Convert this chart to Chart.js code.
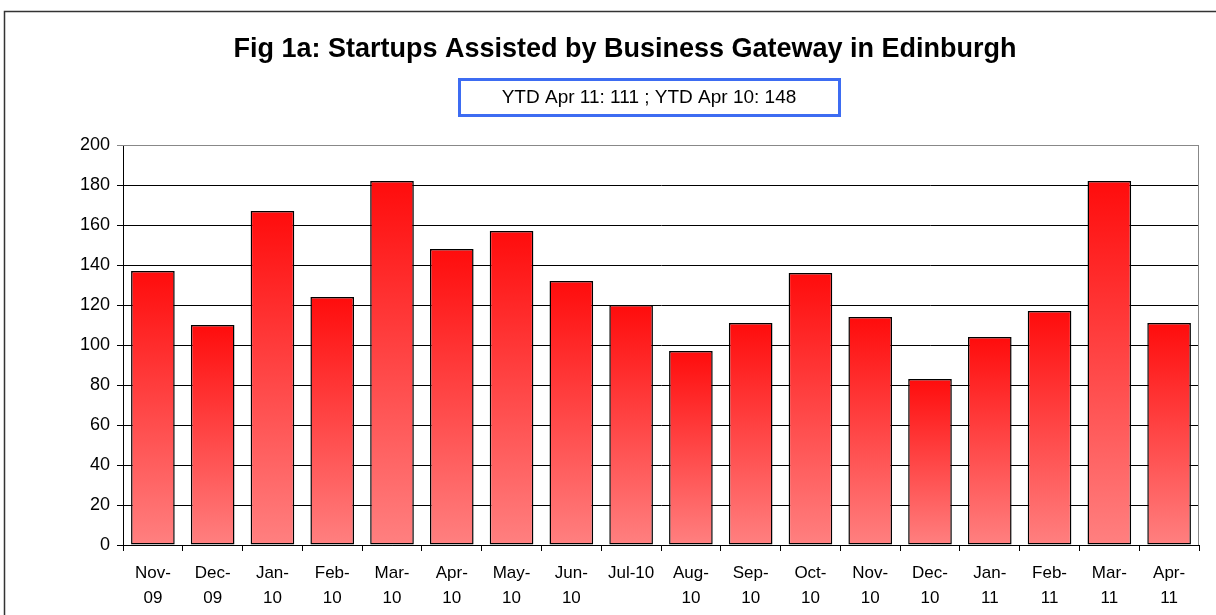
<!DOCTYPE html>
<html>
<head>
<meta charset="utf-8">
<script src="https://cdn.jsdelivr.net/npm/chart.js@4"></script>
<style>
  body { margin: 0; background: #fff; }
  #wrap { width: 1216px; height: 615px; }
</style>
</head>
<body>
<div id="wrap"><canvas id="startupChart" width="1216" height="615"></canvas></div>
<script>
/* =========================
   DATA
========================= */

const months = [
  ["Nov-", "09"], ["Dec-", "09"], ["Jan-", "10"], ["Feb-", "10"], ["Mar-", "10"],
  ["Apr-", "10"], ["May-", "10"], ["Jun-", "10"], "Jul-10", ["Aug-", "10"],
  ["Sep-", "10"], ["Oct-", "10"], ["Nov-", "10"], ["Dec-", "10"], ["Jan-", "11"],
  ["Feb-", "11"], ["Mar-", "11"], ["Apr-", "11"]
];

const startups = [137, 110, 167, 124, 182, 148, 157, 132, 120, 97, 111, 136, 114, 83, 104, 117, 182, 111];

const chartTitle = "Fig 1a: Startups Assisted by Business Gateway in Edinburgh";
const ytdNote = "YTD Apr 11: 111 ; YTD Apr 10: 148";

const FONT = "'Liberation Sans', Arial, sans-serif";

/* =========================
   HEADER + FRAME PLUGIN
========================= */

const header = {
  id: "header",
  beforeDraw(chart) {
    const c = chart.ctx;
    c.save();
    // outer frame
    c.strokeStyle = "#333";
    c.lineWidth = 1.5;
    c.beginPath();
    c.moveTo(4.5, 615);
    c.lineTo(4.5, 11.5);
    c.lineTo(1216, 11.5);
    c.stroke();

    // title
    c.fillStyle = "#000";
    c.textAlign = "center";
    c.textBaseline = "middle";
    c.font = "bold 27px " + FONT;
    c.fillText(chartTitle, 625, 50);

    // ytd box
    c.strokeStyle = "#3d6cf2";
    c.lineWidth = 3;
    c.strokeRect(459.5, 79.5, 380, 36);
    c.font = "19px " + FONT;
    c.fillText(ytdNote, 649, 98);
    c.restore();
  },
  beforeDatasetsDraw(chart) {
    const a = chart.chartArea;
    const c = chart.ctx;
    c.save();
    c.strokeStyle = "#888";
    c.lineWidth = 1;
    c.beginPath();
    c.moveTo(a.left, a.top + 0.5);
    c.lineTo(a.right - 0.5, a.top + 0.5);
    c.lineTo(a.right - 0.5, a.bottom);
    c.stroke();
    c.restore();
  }
};

/* =========================
   BAR CHART
========================= */

function barGradient(ctx) {
  const chart = ctx.chart;
  if (!chart.chartArea || ctx.raw == null) return "#ff3b3b";
  const y = chart.scales.y;
  const top = y.getPixelForValue(ctx.raw);
  const base = y.getPixelForValue(0);
  const g = chart.ctx.createLinearGradient(0, top, 0, base);
  g.addColorStop(0, "#ff0c0c");
  g.addColorStop(1, "#ff8080");
  return g;
}

new Chart(document.getElementById("startupChart"), {
  type: "bar",
  data: {
    labels: months,
    datasets: [
      {
        data: startups,
        backgroundColor: barGradient,
        borderColor: "#000",
        borderWidth: 1.5,
        borderSkipped: false,
        barPercentage: 0.73,
        categoryPercentage: 1
      }
    ]
  },
  options: {
    responsive: false,
    animation: false,
    layout: {
      padding: { left: 0, right: 17, top: 145, bottom: 0 }
    },
    plugins: {
      legend: { display: false },
      tooltip: { enabled: false }
    },
    scales: {
      x: {
        offset: true,
        grid: {
          offset: true,
          drawOnChartArea: false,
          color: "#000",
          tickLength: 6
        },
        border: { color: "#000", width: 1 },
        ticks: {
          color: "#000",
          padding: 10,
          maxRotation: 0,
          autoSkip: false,
          font: { family: FONT, size: 17, lineHeight: "25px" }
        },
        afterFit(scale) { scale.height = 70; }
      },
      y: {
        min: 0,
        max: 200,
        grid: {
          color: ctx => (ctx.tick && ctx.tick.value === 200 ? "#888" : "#000"),
          tickLength: 6,
          lineWidth: 1
        },
        border: { color: "#000", width: 1 },
        ticks: {
          stepSize: 20,
          color: "#000",
          padding: 7,
          font: { family: FONT, size: 18 }
        },
        afterFit(scale) { scale.width = 123; }
      }
    }
  },
  plugins: [header]
});
</script>
</body>
</html>
